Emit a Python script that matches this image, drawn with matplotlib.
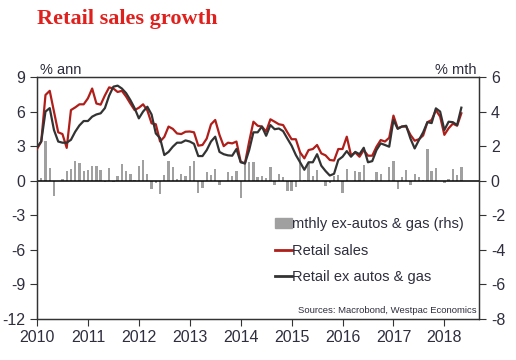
import numpy as np
import matplotlib.pyplot as plt
from matplotlib.patches import Patch
from matplotlib.lines import Line2D

# monthly, Jan 2010 .. May 2018
retail = [2.75, 3.4, 7.44, 7.8, 6.0, 4.2, 4.05, 2.85, 6.13, 6.36, 6.63, 6.63,
          7.15, 8.0, 6.7, 6.6, 7.4, 8.1, 8.0, 7.7, 7.8, 7.3, 6.7, 6.13,
          6.33, 6.63, 6.1, 4.98, 4.9, 3.4, 3.8, 4.7, 4.5, 4.1, 4.05, 4.25,
          4.27, 4.2, 3.04, 3.1, 3.66, 4.89, 5.27, 3.98, 3.0, 3.3, 3.24, 3.4,
          1.65, 1.5, 3.4, 5.12, 4.77, 4.7, 4.27, 5.33, 5.12, 4.9, 4.83, 4.2,
          3.6, 3.6, 2.46, 1.94, 2.66, 2.75, 3.1, 2.37, 2.2, 1.8, 1.75, 2.75,
          2.75, 3.82, 2.2, 2.45, 2.08, 2.66, 2.17, 2.17, 2.95, 3.53, 3.4, 3.73,
          5.65, 4.55, 4.7, 4.7, 3.98, 3.47, 3.6, 3.93, 5.08, 5.27, 6.13, 5.56,
          3.98, 4.55, 4.95, 4.77, 5.85]
retail_ex = [2.9, 3.4, 6.0, 6.3, 4.4, 3.4, 3.3, 3.3, 3.55, 4.25, 4.8, 5.18,
             5.18, 5.56, 5.75, 5.85, 6.3, 7.38, 8.16, 8.25, 8.0, 7.6, 7.0, 6.3,
             5.41, 6.0, 6.42, 5.75, 4.1, 3.7, 2.23, 2.5, 2.95, 3.3, 3.3, 3.5,
             3.4, 3.2, 2.14, 2.14, 2.66, 3.4, 3.82, 2.5, 2.3, 2.2, 2.17, 2.75,
             1.6, 1.5, 2.66, 4.2, 4.2, 4.7, 3.9, 4.83, 4.47, 4.53, 4.3, 3.66,
             3.04, 2.23, 1.6, 0.95, 1.6, 1.6, 2.3, 1.3, 0.84, 0.45, 0.6, 1.8,
             2.08, 2.57, 2.08, 2.5, 2.3, 2.86, 1.6, 1.7, 2.66, 3.24, 3.1, 2.95,
             5.27, 4.5, 4.7, 4.77, 3.66, 2.8, 3.53, 4.2, 5.08, 5.0, 6.28, 6.0,
             4.4, 5.12, 5.08, 4.83, 6.34]
mthly = [0.0, 0.15, 2.27, 0.73, -0.9, 0.0, 0.1, 0.58, 0.7, 1.15, 1.0, 0.54,
         0.63, 0.88, 0.88, 0.6, -0.1, 0.73, -0.08, 0.29, 0.96, 0.58, 0.4, 0.06,
         0.88, 1.19, 0.4, -0.48, -0.13, -0.77, 0.35, 1.15, 0.79, 0.12, 0.4, 0.29,
         0.83, 1.15, -0.71, -0.42, 0.48, 0.35, 0.67, -0.23, 0.0, 0.48, 0.29, 0.54,
         -1.0, 1.08, 1.08, 1.08, 0.19, 0.29, 0.15, 0.77, -0.23, 0.38, 0.19, -0.62,
         -0.62, -0.38, 1.7, 0.06, 1.0, 0.25, 0.63, 0.0, -0.33, -0.13, 0.29, 0.35,
         -0.71, 0.67, 0.0, 0.54, 0.48, 0.92, 0.0, 0.02, 0.48, 0.4, 0.0, 0.79,
         1.15, -0.46, 0.19, 0.63, -0.23, 0.38, 0.21, 0.06, 1.85, 0.54, 0.73, 0.0,
         -0.13, 0.1, 0.69, 0.35, 0.79]

t = 2010 + np.arange(len(retail)) / 12.0
years = list(range(2010, 2019))

red = '#b01e1a'
dark = '#333333'
grey = '#a0a0a0'
txt = '#2e2e3e'

plt.rcParams['font.family'] = ['Liberation Sans', 'DejaVu Sans']
plt.rcParams['axes.unicode_minus'] = False

fig = plt.figure(figsize=(5.16, 3.6), dpi=100)
ax = fig.add_axes([0.0717, 0.1139, 0.8566, 0.6722])
ax2 = ax.twinx()

ax2.bar(t, mthly, width=0.55 / 12, color=grey, zorder=1)
ax2.set_ylim(-8, 6)
ax2.set_yticks(range(-8, 7, 2))

ax.set_zorder(ax2.get_zorder() + 1)
ax.patch.set_visible(False)
ax.axhline(0, color='black', lw=1.1, zorder=2)
ax.plot(t, retail, color=red, lw=1.6, zorder=3)
ax.plot(t, retail_ex, color=dark, lw=1.6, zorder=4)

ax.set_xlim(2010, 2018.68)
ax.set_ylim(-12, 9)
ax.set_yticks(range(-12, 10, 3))
ax.set_xticks(years)

for a in (ax, ax2):
    a.tick_params(direction='out', length=5, width=0.8, colors=dark,
                  labelcolor=txt, labelsize=11.5)
    for s in a.spines.values():
        s.set_color(dark)
        s.set_linewidth(0.9)
ax.tick_params(axis='x', pad=3)

handles = [Patch(color=grey), Line2D([], [], color=red, lw=2),
           Line2D([], [], color=dark, lw=2)]
labels = ['mthly ex-autos & gas (rhs)', 'Retail sales', 'Retail ex autos & gas']
ax.legend(handles, labels, loc='upper left', bbox_to_anchor=(0.525, 0.445),
          frameon=False, fontsize=10.5, handlelength=1.15, handleheight=0.6,
          handletextpad=0.05, labelspacing=0.85, labelcolor=txt,
          borderaxespad=0)

ax.text(0.995, 0.035, 'Sources: Macrobond, Westpac Economics', transform=ax.transAxes,
        ha='right', va='center', fontsize=6.8, color=txt)

fig.text(0.072, 0.948, 'Retail sales growth', color='#e0201c', fontsize=16,
         fontweight='bold', family='Liberation Serif', ha='left', va='center')
fig.text(0.077, 0.806, '% ann', fontsize=10.5, color=txt, ha='left', va='center')
fig.text(0.923, 0.806, '% mth', fontsize=10.5, color=txt, ha='right', va='center')

fig.savefig('out.png', dpi=100)
